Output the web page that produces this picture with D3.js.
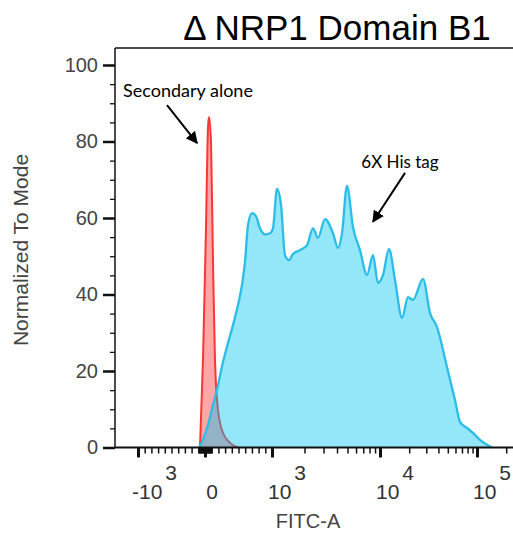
<!DOCTYPE html>
<html>
<head>
<meta charset="utf-8">
<script src="https://cdn.jsdelivr.net/npm/d3@7"></script>
<style>
  html, body { margin: 0; padding: 0; background: #fff; }
  svg { display: block; font-family: "Liberation Sans", Arial, sans-serif; }
</style>
</head>
<body>
<div id="chart"></div>
<script>
// ---------- data ----------
const title = "\u0394 NRP1 Domain B1";
const xTitle = "FITC-A";
const yTitle = "Normalized To Mode";

// Secondary alone (red) histogram: FITC value, normalized-to-mode
const redX = [-75, -30, 15, 45, 60, 90, 119, 149, 194, 269, 373, 493];
const redY = [0, 22.9, 57.6, 83.8, 86.4, 79.6, 49.0, 22.9, 9.8, 3.8, 1.2, 0];

// 6X His tag (blue) histogram
const blueX = [-90, -30, 45, 119, 194, 269, 343, 418, 493, 552, 597, 642, 701, 761, 821, 896, 970,
  1021, 1112, 1212, 1319, 1437, 1564, 1817, 2110, 2397, 2666, 3095, 3671, 4085, 4447, 4948, 5623,
  6527, 7579, 8614, 9583, 10740, 12380, 14280, 16860, 19440, 21890, 27760, 32780, 38700, 49070,
  59330, 66770, 78840, 90950, 107400, 126800, 142800];
const blueY = [0, 2.0, 5.9, 11.1, 16.3, 22.4, 27.3, 32.0, 37.3, 42.5, 48.5, 58.2, 61.3, 60.5, 57.3, 55.7, 56.0,
  57.3, 67.6, 63.4, 50.3, 49.0, 50.6, 51.6, 52.9, 57.3, 54.8, 59.7, 56.0, 52.2, 56.0, 68.4, 57.6,
  51.6, 45.1, 50.3, 43.0, 45.1, 51.9, 43.8, 33.9, 39.3, 38.6, 44.1, 35.2, 31.5, 21.0,
  12.4, 6.7, 5.1, 3.8, 2.0, 0.7, 0];

// axis ticks
const yMajor = [0, 20, 40, 60, 80, 100];
const yMinor = d3.range(0, 101, 5);
const xMajor = [-1000, 0, 1000, 10000, 100000];
const xMinor = [].concat(
  d3.range(-900, 0, 100), d3.range(-90, 0, 10), d3.range(10, 100, 10), d3.range(100, 1000, 100),
  d3.range(2000, 10000, 1000), d3.range(20000, 100000, 10000), [200000]);
const xLabels = [
  { v: -1000, base: "-10", exp: "3" },
  { v: 0, base: "0", exp: "" },
  { v: 1000, base: "10", exp: "3" },
  { v: 10000, base: "10", exp: "4" },
  { v: 100000, base: "10", exp: "5" }
];
// annotation text anchors and arrows (in data units)
const annotations = [
  { text: "Secondary alone", tx: -254, ty: 91.6, ax0: -567, ay0: 89.5, ax1: -119, ay1: 79.6 },
  { text: "6X His tag", tx: 16070, ty: 73.1, ax0: 18110, ay0: 71.8, ax1: 8610, ay1: 59.0 }
];

// ---------- layout ----------
const W = 513, H = 537;
const svg = d3.select("#chart").append("svg").attr("width", W).attr("height", H);

const plotLeft = 115, plotTop = 48, plotBottom = 447.5, plotRight = 513;

// logicle-like transform: linear within +-1000, log decades beyond
const tr = v => Math.abs(v) <= 1000 ? v / 1000 : Math.sign(v) * (1 + Math.log10(Math.abs(v) / 1000));
const x = d3.scaleLinear().domain([-1, 0, 1, 2, 3]).range([138, 205, 272, 380, 477]);
const xs = v => x(tr(v));
const y = d3.scaleLinear().domain([0, 100]).range([plotBottom, 65]);

// ---------- histograms ----------
const red = redX.map((v, i) => ({ v, c: redY[i] }));
const blue = blueX.map((v, i) => ({ v, c: blueY[i] }));
const area = d3.area().x(d => xs(d.v)).y0(y(0)).y1(d => y(d.c)).curve(d3.curveMonotoneX);
const line = d3.line().x(d => xs(d.v)).y(d => y(d.c)).curve(d3.curveMonotoneX);

svg.append("path").datum(red).attr("d", area).attr("fill", "rgba(255,60,60,0.45)");
svg.append("path").datum(red).attr("d", line).attr("fill", "none")
  .attr("stroke", "#ff3535").attr("stroke-width", 2);
svg.append("path").datum(blue).attr("d", area).attr("fill", "rgba(0,195,240,0.42)");
svg.append("path").datum(blue).attr("d", line).attr("fill", "none")
  .attr("stroke", "#2bbde8").attr("stroke-width", 2.3);

// ---------- frame ----------
svg.append("line").attr("x1", plotLeft).attr("x2", plotLeft).attr("y1", plotTop).attr("y2", plotBottom)
  .attr("stroke", "#111").attr("stroke-width", 1.5);
svg.append("line").attr("x1", plotLeft).attr("x2", plotRight).attr("y1", plotTop).attr("y2", plotTop)
  .attr("stroke", "#111").attr("stroke-width", 1.5);
svg.append("line").attr("x1", plotLeft).attr("x2", plotRight).attr("y1", plotBottom).attr("y2", plotBottom)
  .attr("stroke", "#111").attr("stroke-width", 2);

// ---------- y axis ----------
const yAxMinor = svg.append("g").attr("transform", `translate(${plotLeft},0)`)
  .call(d3.axisLeft(y).tickValues(yMinor).tickSize(5).tickFormat(""));
const yAxMajor = svg.append("g").attr("transform", `translate(${plotLeft},0)`)
  .call(d3.axisLeft(y).tickValues(yMajor).tickSize(12).tickPadding(5).tickFormat(d3.format("d")));
[yAxMinor, yAxMajor].forEach(g => g.select(".domain").remove());
yAxMinor.selectAll("line").attr("stroke", "#111").attr("stroke-width", 1.3);
yAxMajor.selectAll("line").attr("stroke", "#111").attr("stroke-width", 2.5);
yAxMajor.selectAll("text").attr("fill", "#444")
  .style("font-size", "20px").style("font-family", "'Liberation Sans', Arial, sans-serif");

// ---------- x axis ----------
const xAxMinor = svg.append("g").attr("transform", `translate(0,${plotBottom})`)
  .call(d3.axisBottom(x).tickValues(xMinor.map(tr)).tickSize(6).tickFormat(""));
const xAxMajor = svg.append("g").attr("transform", `translate(0,${plotBottom})`)
  .call(d3.axisBottom(x).tickValues(xMajor.map(tr)).tickSize(10).tickFormat(""));
[xAxMinor, xAxMajor].forEach(g => g.select(".domain").remove());
xAxMinor.selectAll("line").attr("stroke", "#111").attr("stroke-width", 1.5);
xAxMajor.selectAll("line").attr("stroke", "#111").attr("stroke-width", 3);

const xl = svg.append("g").attr("fill", "#333").style("font-size", "21px");
xLabels.forEach(l => {
  const t = xl.append("text").attr("y", 499);
  if (l.exp) {
    t.attr("x", xs(l.v) + (l.v < 0 ? -6 : -4)).attr("text-anchor", "start");
    t.append("tspan").text(l.base);
    t.append("tspan").attr("dy", -19).attr("dx", 3).text(l.exp);
  } else {
    t.attr("x", xs(l.v) + 7).attr("text-anchor", "middle").text(l.base);
  }
});

// ---------- titles ----------
svg.append("text").attr("x", 337).attr("y", 40).attr("text-anchor", "middle")
  .style("font-size", "35px").attr("fill", "#000").text(title);
svg.append("text").attr("x", 308).attr("y", 528).attr("text-anchor", "middle")
  .style("font-size", "20px").attr("fill", "#444").text(xTitle);
svg.append("text").attr("transform", "translate(28,250) rotate(-90)").attr("text-anchor", "middle")
  .style("font-size", "21px").attr("fill", "#444").text(yTitle);

// ---------- annotations ----------
const defs = svg.append("defs");
defs.append("marker").attr("id", "ah").attr("viewBox", "0 0 10 10").attr("refX", 9).attr("refY", 5)
  .attr("markerWidth", 6).attr("markerHeight", 6).attr("orient", "auto")
  .append("path").attr("d", "M0,0 L10,5 L0,10 z").attr("fill", "#000");

annotations.forEach((a, i) => {
  svg.append("text").attr("x", xs(a.tx)).attr("y", y(a.ty)).attr("text-anchor", "middle")
    .style("font-family", "Lato, 'Open Sans', sans-serif").style("font-size", i === 0 ? "18px" : "17px")
    .attr("fill", "#000").text(a.text);
  svg.append("line").attr("x1", xs(a.ax0)).attr("y1", y(a.ay0)).attr("x2", xs(a.ax1)).attr("y2", y(a.ay1))
    .attr("stroke", "#000").attr("stroke-width", 2).attr("marker-end", "url(#ah)");
});
</script>
</body>
</html>
